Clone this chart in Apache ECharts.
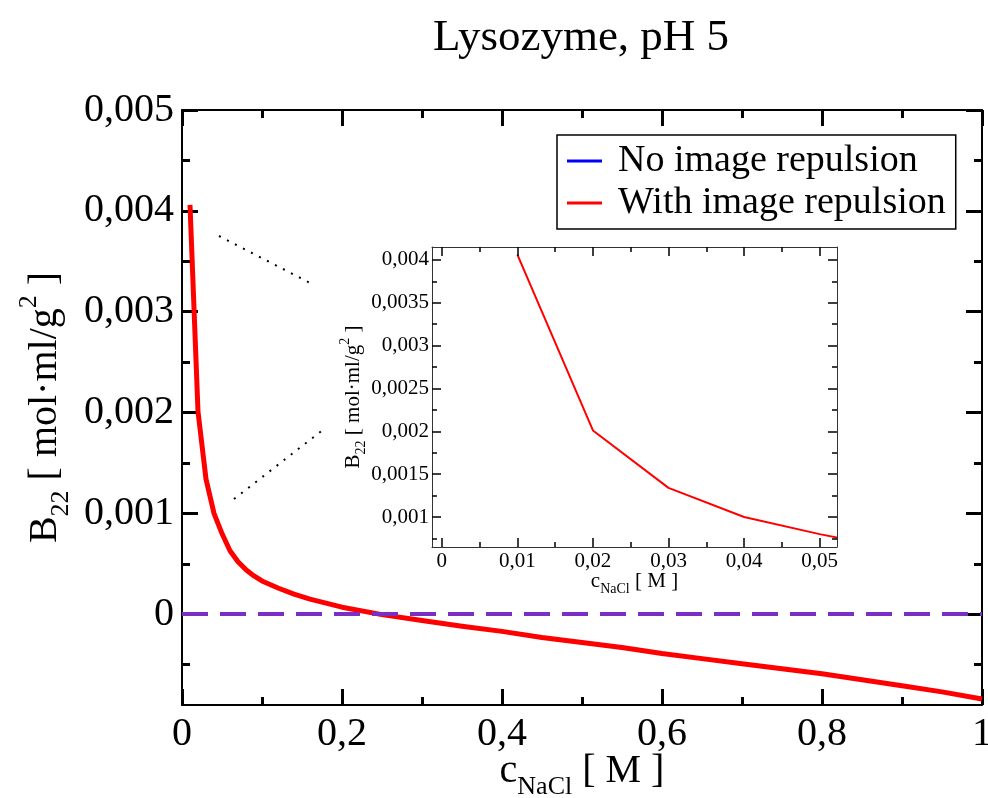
<!DOCTYPE html>
<html>
<head>
<meta charset="utf-8">
<title>Lysozyme, pH 5</title>
<script src="https://cdn.jsdelivr.net/npm/echarts@6/dist/echarts.min.js"></script>
<style>
  html, body { margin: 0; padding: 0; background: #ffffff; }
  #chart { width: 988px; height: 798px; }
</style>
</head>
<body>
<div id="chart"></div>
<script>
// Salt concentration c_NaCl [M]
const cNaCl = [0.01, 0.02, 0.03, 0.04, 0.05, 0.06, 0.07, 0.08, 0.09, 0.10,
               0.12, 0.14, 0.16, 0.18, 0.20, 0.25, 0.30, 0.35, 0.40, 0.45,
               0.50, 0.55, 0.60, 0.65, 0.70, 0.75, 0.80, 0.85, 0.90, 0.95, 1.00];
// B22 [mol·ml/g²] with image repulsion
const b22WithImage = [0.00406, 0.00201, 0.00134, 0.00100, 0.00080, 0.00063, 0.00052, 0.00044, 0.00038, 0.00033,
                      0.00026, 0.00020, 0.00015, 0.00011, 0.00007, -0.000004, -0.000063, -0.00012, -0.00017, -0.00023,
                      -0.00028, -0.00033, -0.00039, -0.00044, -0.00049, -0.00054, -0.00059, -0.00065, -0.00071, -0.00077, -0.00084];
// B22 without image repulsion (legend entry only)
const b22NoImage = [];

const seriesNames = ['No image repulsion', 'With image repulsion'];

// main axes
const mainYMajor = [0, 0.001, 0.002, 0.003, 0.004, 0.005];
const mainYMinor = [-0.0005, 0.0005, 0.0015, 0.0025, 0.0035, 0.0045];
// inset axes
const insetXMajor = [0, 0.01, 0.02, 0.03, 0.04, 0.05];
const insetXMinor = [0.005, 0.015, 0.025, 0.035, 0.045];
const insetYMajor = [0.001, 0.0015, 0.002, 0.0025, 0.003, 0.0035, 0.004];
const insetYMinor = [0.00075, 0.00125, 0.00175, 0.00225, 0.00275, 0.00325, 0.00375];

const FONT = 'Liberation Serif';
const comma = v => String(v).replace('.', ',');
const pairs = (xs, ys) => xs.map((x, i) => [x, ys[i]]);

const chart = echarts.init(document.getElementById('chart'), null, { renderer: 'canvas' });

function yAxisDef(o) {
  return {
    type: 'value',
    gridIndex: o.grid,
    position: o.pos,
    min: o.min, max: o.max,
    z: o.z || 0,
    axisLine: { show: o.line, onZero: false, lineStyle: { color: o.lineColor || '#000', width: o.lineWidth } },
    axisTick: { show: true, inside: true, length: o.len, customValues: o.ticks,
                lineStyle: { color: '#000', width: o.tickWidth } },
    axisLabel: o.labels ? { show: true, customValues: o.ticks, formatter: comma, fontFamily: FONT,
                            fontSize: o.fontSize, color: '#000', margin: o.margin } : { show: false },
    splitLine: { show: false },
    name: o.name || '',
    nameLocation: 'middle',
    nameRotate: 90,
    nameGap: o.nameGap || 0,
    nameMoveOverlap: false,
    nameTextStyle: o.nameStyle || {}
  };
}

function xAxisDef(o) {
  const ax = {
    type: 'value',
    gridIndex: o.grid,
    position: o.pos,
    min: o.min, max: o.max,
    z: o.z || 0,
    axisLine: { show: o.line, onZero: false, lineStyle: { color: o.lineColor || '#000', width: o.lineWidth } },
    axisTick: { show: true, inside: true, length: o.len, lineStyle: { color: '#000', width: o.tickWidth } },
    axisLabel: o.labels ? { show: true, formatter: comma, fontFamily: FONT, fontSize: o.fontSize,
                            color: '#000', margin: o.margin } : { show: false },
    splitLine: { show: false },
    name: o.name || '',
    nameLocation: 'middle',
    nameGap: o.nameGap || 0,
    nameMoveOverlap: false,
    nameTextStyle: o.nameStyle || {}
  };
  if (o.interval) ax.interval = o.interval;
  if (o.ticks) {
    ax.axisTick.customValues = o.ticks;
    if (o.labels) ax.axisLabel.customValues = o.ticks;
  }
  if (o.minor) ax.minorTick = { show: true, splitNumber: 2, length: o.minor, lineStyle: { color: '#000', width: o.tickWidth } };
  return ax;
}

// rich-text styles for names with sub/superscripts
function nameStyle(big, small, lh) {
  return {
    fontFamily: FONT, color: '#000',
    rich: {
      b: { fontFamily: FONT, fontSize: big, color: '#000', lineHeight: lh, verticalAlign: 'middle' },
      s: { fontFamily: FONT, fontSize: small, color: '#000', lineHeight: small, verticalAlign: 'bottom' },
      p: { fontFamily: FONT, fontSize: small, color: '#000', lineHeight: small, verticalAlign: 'top' }
    }
  };
}

const option = {
  backgroundColor: '#ffffff',
  animation: false,
  title: {
    text: 'Lysozyme, pH 5',
    left: 576, top: 11, textAlign: 'center',
    textStyle: { fontFamily: FONT, fontSize: 45, fontWeight: 'normal', color: '#000' }
  },
  legend: {
    orient: 'vertical',
    left: 557, top: 135,
    data: seriesNames,
    icon: 'rect',
    itemWidth: 35, itemHeight: 3, itemGap: 4,
    padding: [7, 10, 7, 10],
    borderColor: '#000', borderWidth: 1.5,
    backgroundColor: '#fff',
    textStyle: { fontFamily: FONT, fontSize: 38, lineHeight: 38, color: '#000', padding: [0, 0, 0, 11] }
  },
  grid: [
    { left: 182, top: 110, width: 800, height: 595, containLabel: false, outerBoundsMode: 'none' },
    { left: 432, top: 247, width: 405, height: 300, containLabel: false, outerBoundsMode: 'none', show: true,
      backgroundColor: '#fff', borderWidth: 0, z: 5 }
  ],
  xAxis: [
    xAxisDef({ grid: 0, pos: 'bottom', min: 0, max: 1, interval: 0.2, line: true, lineWidth: 2, len: 16, minor: 8,
               tickWidth: 3, labels: true, fontSize: 40, margin: 9,
               name: '{b|c}{s|NaCl}{b| [ M ]}', nameGap: 37, nameStyle: nameStyle(40, 26, 58) }),
    xAxisDef({ grid: 0, pos: 'top', min: 0, max: 1, interval: 0.2, line: true, lineWidth: 2, len: 16, minor: 8,
               tickWidth: 3, labels: false }),
    xAxisDef({ grid: 1, pos: 'bottom', z: 10, min: -0.0013, max: 0.0523, ticks: insetXMajor, line: true, lineColor: '#333',
               lineWidth: 1, len: 9, tickWidth: 1.5, labels: true, fontSize: 21, margin: 4,
               name: '{b|c}{s|NaCl}{b| [ M ]}', nameGap: 19, nameStyle: nameStyle(21, 14, 30) }),
    xAxisDef({ grid: 1, pos: 'bottom', z: 10, min: -0.0013, max: 0.0523, ticks: insetXMinor, line: false, len: 5, tickWidth: 1.5, labels: false }),
    xAxisDef({ grid: 1, pos: 'top', z: 10, min: -0.0013, max: 0.0523, ticks: insetXMajor, line: true, lineColor: '#333',
               lineWidth: 1, len: 9, tickWidth: 1.5, labels: false }),
    xAxisDef({ grid: 1, pos: 'top', z: 10, min: -0.0013, max: 0.0523, ticks: insetXMinor, line: false, len: 5, tickWidth: 1.5, labels: false })
  ],
  yAxis: [
    yAxisDef({ grid: 0, pos: 'left', min: -0.0009, max: 0.005, ticks: mainYMajor, line: true, lineWidth: 2, len: 16,
               tickWidth: 3, labels: true, fontSize: 40, margin: 8,
               name: '{b|B}{s|22}{b| [ mol·ml/g}{p|2}{b| ]}', nameGap: 108, nameStyle: nameStyle(40, 26, 58) }),
    yAxisDef({ grid: 0, pos: 'left', min: -0.0009, max: 0.005, ticks: mainYMinor, line: false, len: 8, tickWidth: 3, labels: false }),
    yAxisDef({ grid: 0, pos: 'right', min: -0.0009, max: 0.005, ticks: mainYMajor, line: true, lineWidth: 2, len: 16, tickWidth: 3, labels: false }),
    yAxisDef({ grid: 0, pos: 'right', min: -0.0009, max: 0.005, ticks: mainYMinor, line: false, len: 8, tickWidth: 3, labels: false }),
    yAxisDef({ grid: 1, pos: 'left', z: 10, min: 0.00065, max: 0.00415, ticks: insetYMajor, line: true, lineColor: '#333', lineWidth: 1,
               len: 9, tickWidth: 1.5, labels: true, fontSize: 21, margin: 3,
               name: '{b|B}{s|22}{b| [ mol·ml/g}{p|2}{b| ]}', nameGap: 64, nameStyle: nameStyle(21, 14, 30) }),
    yAxisDef({ grid: 1, pos: 'left', z: 10, min: 0.00065, max: 0.00415, ticks: insetYMinor, line: false, len: 5, tickWidth: 1.5, labels: false }),
    yAxisDef({ grid: 1, pos: 'right', z: 10, min: 0.00065, max: 0.00415, ticks: insetYMajor, line: true, lineColor: '#333', lineWidth: 1,
               len: 9, tickWidth: 1.5, labels: false }),
    yAxisDef({ grid: 1, pos: 'right', z: 10, min: 0.00065, max: 0.00415, ticks: insetYMinor, line: false, len: 5, tickWidth: 1.5, labels: false })
  ],
  series: [
    {
      name: seriesNames[0], type: 'line', xAxisIndex: 0, yAxisIndex: 0,
      data: pairs(cNaCl, b22NoImage), showSymbol: false, symbol: 'none',
      itemStyle: { color: '#0000ff' }, lineStyle: { color: '#0000ff', width: 5 }
    },
    {
      name: seriesNames[1], type: 'line', xAxisIndex: 0, yAxisIndex: 0,
      data: pairs(cNaCl, b22WithImage), showSymbol: false, symbol: 'none', clip: true,
      itemStyle: { color: '#ff0000' }, lineStyle: { color: '#ff0000', width: 5, join: 'round' }, z: 3,
      markLine: {
        silent: true, symbol: 'none', label: { show: false },
        lineStyle: { color: '#7a2ec4', width: 4, type: [26, 12], opacity: 1 },
        data: [{ yAxis: 0 }]
      }
    },
    {
      name: seriesNames[1], type: 'line', xAxisIndex: 2, yAxisIndex: 4,
      data: pairs(cNaCl, b22WithImage), showSymbol: false, symbol: 'none', clip: true,
      itemStyle: { color: '#ff0000' }, lineStyle: { color: '#ff0000', width: 2 }, z: 6
    }
  ],
  graphic: [
    // dotted zoom guides between the steep branch and the inset
    { type: 'line', shape: { x1: 219, y1: 236, x2: 314, y2: 285 },
      style: { stroke: '#000', lineWidth: 2, lineDash: [2, 7] }, silent: true },
    { type: 'line', shape: { x1: 234, y1: 499, x2: 324, y2: 429 },
      style: { stroke: '#000', lineWidth: 2, lineDash: [2, 7] }, silent: true }
  ]
};

chart.setOption(option);
</script>
</body>
</html>
